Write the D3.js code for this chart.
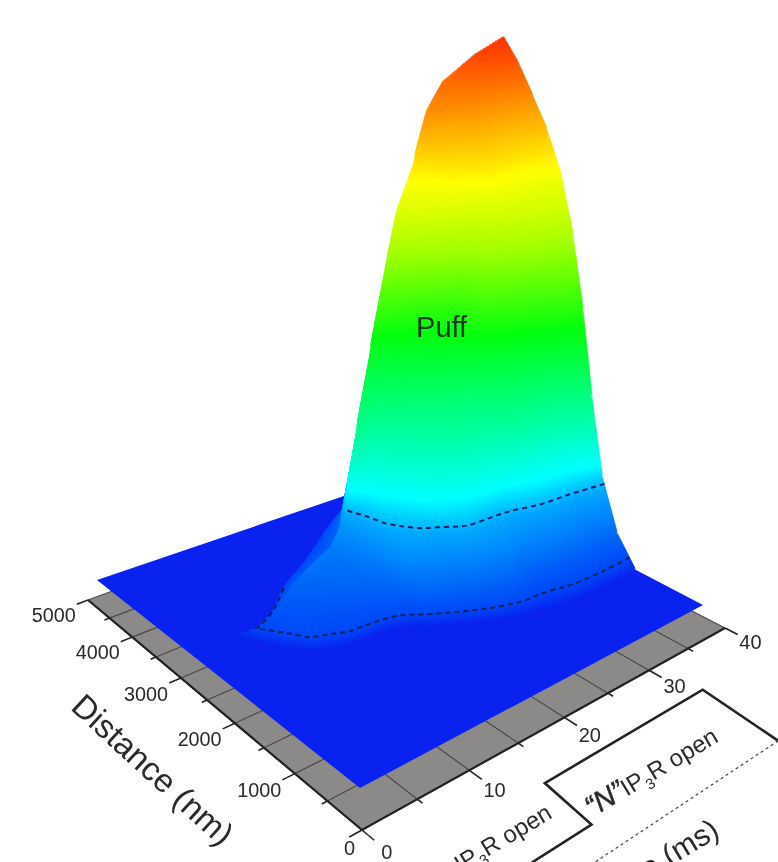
<!DOCTYPE html>
<html lang="en">
<head>
    <meta charset="UTF-8">
    <title>Puff surface</title>
    <script src="https://cdn.jsdelivr.net/npm/d3@7"></script>
    <style>
        html, body { margin: 0; padding: 0; background: #fff; overflow: hidden; }
        svg { display: block; font-family: "Liberation Sans", Arial, sans-serif; filter: blur(0.7px); }
        text { fill: #2a2a2a; }
    </style>
</head>
<body>
    <div id="chart"></div>

    <script>
        // =============================
        // 1. Data
        // =============================
        const timeTicks = [0, 10, 20, 30, 40];
        const timeMinor = [5, 15, 25, 35];
        const distanceTicks = [0, 1000, 2000, 3000, 4000, 5000];
        const distanceMinor = [500, 1500, 2500, 3500, 4500];

        // surface: one height profile per time column, rising from front to crest,
        // then shoulder and foot of the back slope, then the drop to the plane
        const gridT = [4, 5.6, 8, 11.2, 15.2, 16.8, 18.4, 21.6, 24, 26.4, 28.8, 32, 36, 40];
        const frontD = [3000, 2600, 2150, 2000, 1950, 1850, 1700, 1450, 1300, 1200, 1100, 1050, 1050, 1100];
        const crestD = [3000, 2800, 2900, 3100, 3250, 3350, 3575, 4050, 4350, 4500, 4775, 5000, 5000, 5000];
        const footD = [3000, 2850, 3000, 3375, 3700, 3850, 4000, 4300, 4475, 4725, 5000, 5000, 5000, 5000];
        const profiles = [
            [0, 0, 0, 0, 0, 0, 0, 0, 0, 0, 0, 0, 0, 0],
            [0, .5, 1, 1.2, 1.4, 1.6, 1.7, 1.8, 1.9, 2, 2.2, 2.1, 1.5, 0],
            [0, 1, 2, 2.3, 2.6, 2.9, 3.1, 3.3, 3.5, 3.7, 4, 3.4, 1.8, 0],
            [0, 2, 2.5, 3, 3.5, 4, 4.5, 5, 5.5, 6, 6.5, 5, 1.8, 0],
            [0, 2.5, 3.5, 4.5, 5.5, 6, 6.5, 7, 7.5, 8, 9, 6, 1.8, 0],
            [0, 2.8, 4.5, 5.5, 6.5, 7.5, 8.5, 9.5, 10.5, 11, 12, 6, 1.8, 0],
            [0, 3.5, 7, 9.5, 12, 13.5, 15, 16.5, 18, 23, 30, 6, 1.8, 0],
            [0, 4.5, 9, 13, 17, 20, 23, 27, 32, 36, 44, 6, 1.8, 0],
            [0, 5, 10.5, 16, 20, 25, 29.5, 34, 42, 49, 72, 6, 1.8, 0],
            [0, 5, 11, 16, 23, 29, 34, 42, 47, 74, 82, 6, 1.8, 0],
            [0, 3.5, 10.5, 17, 25, 32, 41, 48.5, 79, 85, 90, 60, 40, 0],
            [0, 4.5, 12, 21, 32, 42, 59, 80, 86, 91, 94, 94, 94, 0],
            [0, 5, 13, 24, 36, 54, 71, 82, 88, 94, 98, 98, 98, 0],
            [0, 6, 16.5, 32.5, 50, 65, 76.5, 84.5, 90.5, 96, 100, 100, 100, 0]
        ];
        const shoulderAt = 0.15;
        const dashedLevels = [2, 15];

        const colorStops = [0, 2, 8, 14, 19, 30, 46, 63, 78, 90, 100];
        const colorValues = ["#0a22f0", "#0048f8", "#0078fa", "#00a8ff", "#00ffff", "#00ff96", "#00ff10", "#a0ff00", "#ffff00", "#ff9000", "#ff3000"];

        // channel record under the time axis
        const traceT = [0, 12.5, 13.2, 31.2, 30.3];
        const traceD = [-1240, -1240, -580, -580, -1580];
        const baseT = [10, 30.3];
        const baseD = [-1580, -1580];

        // =============================
        // 2. Projection
        // =============================
        const width = 778, height = 862;

        const tScale = d3.scaleLinear().domain([0, 40]).range([0, 1]);
        const dScale = d3.scaleLinear().domain([0, 5000]).range([0, 1]);
        const zScale = d3.scaleLinear().domain([0, 100]).range([0, 429]);

        // square to quad mapping, corners are near, time end, far, distance end
        function quad(p0, p1, p2, p3) {
            const dx1 = p1[0] - p2[0], dx2 = p3[0] - p2[0], sx = p0[0] - p1[0] + p2[0] - p3[0];
            const dy1 = p1[1] - p2[1], dy2 = p3[1] - p2[1], sy = p0[1] - p1[1] + p2[1] - p3[1];
            const den = dx1 * dy2 - dx2 * dy1;
            const g = (sx * dy2 - dx2 * sy) / den, h = (dx1 * sy - sx * dy1) / den;
            const a = p1[0] - p0[0] + g * p1[0], b = p3[0] - p0[0] + h * p3[0];
            const d = p1[1] - p0[1] + g * p1[1], e = p3[1] - p0[1] + h * p3[1];
            return (u, v) => {
                const w = g * u + h * v + 1;
                return [(a * u + b * v + p0[0]) / w, (d * u + e * v + p0[1]) / w];
            };
        }

        const floorQuad = quad([362, 830], [725, 628], [427, 475], [88, 600]);
        const planeQuad = quad([360, 788], [703, 605], [435, 465], [97, 580]);

        const floorPt = (t, d) => floorQuad(tScale(t), dScale(d));
        function surfacePt(t, d, z) {
            const p = planeQuad(tScale(t), dScale(d));
            const lift = zScale(z);
            return [p[0] + 0.16 * lift, p[1] - lift];
        }

        const svg = d3.select("#chart").append("svg")
            .attr("width", width)
            .attr("height", height);

        // =============================
        // 3. Floor, grid and axes
        // =============================
        const line = d3.line();
        const bandLine = d3.line().curve(d3.curveCatmullRomClosed.alpha(0.5));
        const dashLine = d3.line().curve(d3.curveCatmullRom.alpha(0.5));

        svg.append("path")
            .attr("fill", "#8c8a88")
            .attr("d", line([floorPt(0, 0), floorPt(40, 0), floorPt(40, 5000), floorPt(0, 5000)]) + "Z");

        const gridG = svg.append("g").attr("stroke", "#4a4a48").attr("stroke-width", 1.2).attr("fill", "none");
        timeTicks.concat(timeMinor).forEach(t => {
            gridG.append("path").attr("d", line([floorPt(t, 0), floorPt(t, 5000)]));
        });
        distanceTicks.concat(distanceMinor).forEach(d => {
            gridG.append("path").attr("d", line([floorPt(0, d), floorPt(40, d)]));
        });

        const axisG = svg.append("g").attr("stroke", "#222").attr("fill", "none");
        axisG.append("path").attr("stroke-width", 2.2)
            .attr("d", line([floorPt(0, 5000), floorPt(0, 0), floorPt(40, 0)]));
        timeTicks.forEach(t => axisG.append("path").attr("stroke-width", 1.6).attr("d", line([floorPt(t, 0), floorPt(t, -170)])));
        timeMinor.forEach(t => axisG.append("path").attr("stroke-width", 1.6).attr("d", line([floorPt(t, 0), floorPt(t, -70)])));
        distanceTicks.forEach(d => axisG.append("path").attr("stroke-width", 1.6).attr("d", line([floorPt(0, d), floorPt(-1.1, d)])));
        distanceMinor.forEach(d => axisG.append("path").attr("stroke-width", 1.6).attr("d", line([floorPt(0, d), floorPt(-0.5, d)])));

        svg.selectAll(".t-label").data(timeTicks).enter().append("text")
            .attr("class", "t-label")
            .attr("x", t => floorPt(t, -340)[0])
            .attr("y", t => floorPt(t, -340)[1] + 8)
            .attr("text-anchor", "middle")
            .attr("font-size", 20)
            .text(t => t);

        svg.selectAll(".d-label").data(distanceTicks).enter().append("text")
            .attr("class", "d-label")
            .attr("x", d => floorPt(d === 0 ? -0.6 : -1.2, d)[0])
            .attr("y", d => floorPt(-1.2, d)[1] + 17)
            .attr("text-anchor", "end")
            .attr("font-size", 20)
            .attr("textLength", d => d === 0 ? null : 44)
            .attr("lengthAdjust", "spacingAndGlyphs")
            .text(d => d);

        // =============================
        // 4. Surface as stacked contour bands
        // =============================
        const nCols = gridT.length, nRows = profiles[0].length;
        const values = new Array(nCols * nRows);
        profiles.forEach((p, j) => p.forEach((z, i) => { values[i * nCols + j] = z; }));

        const colIndex = d3.range(nCols);
        const colT = d3.scaleLinear().domain(colIndex).range(gridT).clamp(true);
        const colFront = d3.scaleLinear().domain(colIndex).range(frontD).clamp(true);
        const colCrest = d3.scaleLinear().domain(colIndex).range(crestD).clamp(true);
        const colFoot = d3.scaleLinear().domain(colIndex).range(footD).clamp(true);

        function gridToData(pt) {
            const c = pt[0] - 0.5, r = Math.max(0, Math.min(nRows - 1, pt[1] - 0.5));
            const f = colFront(c), k = colCrest(c), b = colFoot(c);
            let d;
            if (r <= 10) d = f + (k - f) * r / 10;
            else if (r <= 11) d = k + (b - k) * shoulderAt * (r - 10);
            else if (r <= 12) d = k + (b - k) * (shoulderAt + (1 - shoulderAt) * (r - 11));
            else d = b;
            return [colT(c), d];
        }

        const color = d3.scaleLinear().domain(colorStops).range(colorValues);
        const contours = d3.contours().size([nCols, nRows]);

        function ringPath(ring, z) {
            // d3.contours closes each ring by repeating the first point, the closed curve does not need it
            return bandLine(ring.slice(0, -1).map(pt => {
                const q = gridToData(pt);
                return surfacePt(q[0], q[1], z);
            }));
        }

        // plane under the hill
        svg.append("path")
            .attr("fill", color(0))
            .attr("d", line([surfacePt(0, 0, 0), surfacePt(40, 0, 0), surfacePt(40, 5000, 0), surfacePt(0, 5000, 0)]) + "Z");

        // low levels first, so that the higher ones cover them.
        // Where the rings move fast (foot and top) the levels are closer, elsewhere
        // each band is swept up to the next level, that keeps the outline from stepping.
        function drawBands(levels, sweep) {
            levels.forEach(z => {
                const geo = contours.contour(values, z);
                sweep.forEach(s => {
                    const dPath = geo.coordinates.map(poly => poly.map(r => ringPath(r, z + s)).join("")).join("");
                    if (!dPath) return;
                    svg.append("path")
                        .attr("fill", color(z))
                        .attr("stroke", color(z))
                        .attr("stroke-width", 0.6)
                        .attr("fill-rule", "evenodd")
                        .attr("d", dPath);
                });
            });
        }
        drawBands(d3.range(0.25, 30, 0.25), [0]);
        drawBands(d3.range(30, 88, 0.5), [0, 0.25]);
        drawBands(d3.range(88, 99.95, 0.2), [0]);

        // dashed levels, only the side that faces us
        dashedLevels.forEach(z => {
            const geo = contours.contour(values, z);
            const ring = geo.coordinates[0][0].slice(0, -1);
            const keep = pt => pt[0] < nCols && (pt[1] - 0.5 <= 10 || (z === 2 && gridToData(pt)[0] < 12));
            let start = 0;
            ring.forEach((pt, i) => {
                if (!keep(pt) && keep(ring[(i + 1) % ring.length])) start = i + 1;
            });
            const ordered = ring.slice(start).concat(ring.slice(0, start)).filter(keep);
            svg.append("path")
                .attr("fill", "none")
                .attr("stroke", "#12205a")
                .attr("stroke-width", 2)
                .attr("stroke-dasharray", "5 4")
                .attr("d", dashLine(ordered.map(pt => {
                    const q = gridToData(pt);
                    return surfacePt(q[0], q[1], z);
                })));
        });

        const puffPos = surfacePt(28, 3700, 45);
        svg.append("text")
            .attr("x", puffPos[0] + 2)
            .attr("y", puffPos[1])
            .attr("font-size", 29)
            .attr("text-anchor", "middle")
            .style("fill", "#123a12")
            .text("Puff");

        // =============================
        // 5. Channel record and its labels
        // =============================
        svg.append("path")
            .attr("fill", "none")
            .attr("stroke", "#222")
            .attr("stroke-width", 2.6)
            .attr("d", line(traceT.map((t, i) => floorPt(t, traceD[i]))));

        svg.append("path")
            .attr("fill", "none")
            .attr("stroke", "#444")
            .attr("stroke-width", 1.2)
            .attr("stroke-dasharray", "3 3")
            .attr("d", line(baseT.map((t, i) => floorPt(t, baseD[i]))));

        function slanted(t, d, size, anchor) {
            const p = floorPt(t, d);
            return svg.append("text")
                .attr("transform", `translate(${p[0]},${p[1]}) rotate(-31)`)
                .attr("font-size", size)
                .attr("text-anchor", anchor);
        }

        function channelLabel(t, d, first) {
            const g = slanted(t, d, 24, "middle");
            if (first === "N") {
                g.append("tspan").attr("font-style", "italic").attr("font-size", 29)
                    .attr("stroke", "#2a2a2a").attr("stroke-width", 0.5).text("\u201CN\u201D");
            } else {
                g.append("tspan").text(first + " ");
            }
            g.append("tspan").text("IP");
            g.append("tspan").attr("font-size", 15).attr("dy", 6).text("3");
            g.append("tspan").attr("dy", -6).text("R open");
        }
        channelLabel(19.7, -1200, "N");
        channelLabel(5.8, -950, "1");

        slanted(18.5, -2060, 30, "end").text("Time (ms)");

        const distancePos = floorPt(-8.6, 1830);
        svg.append("text")
            .attr("transform", `translate(${distancePos[0]},${distancePos[1]}) rotate(42.5)`)
            .attr("font-size", 33)
            .attr("text-anchor", "middle")
            .text("Distance (nm)");
    </script>
</body>
</html>
